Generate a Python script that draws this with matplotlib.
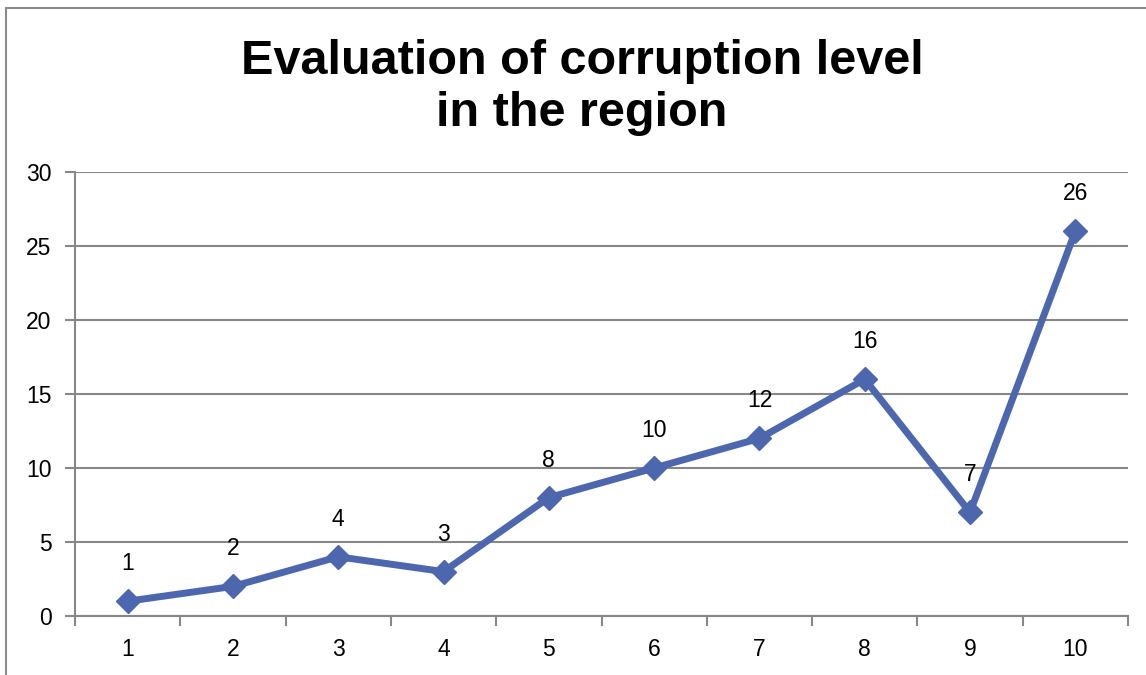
import matplotlib.pyplot as plt
from matplotlib.patches import Rectangle

plt.rcParams['font.family'] = ['Liberation Sans', 'DejaVu Sans']

categories = [1, 2, 3, 4, 5, 6, 7, 8, 9, 10]
values = [1, 2, 4, 3, 8, 10, 12, 16, 7, 26]
y_ticks = [0, 5, 10, 15, 20, 25, 30]

line_color = '#4D67AE'
grid_color = '#878787'

fig = plt.figure(figsize=(11.46, 6.75), dpi=100)
ax = fig.add_axes([75 / 1146, 1 - 616 / 675, (1128 - 75) / 1146, (616 - 172) / 675])

# outer chart frame (runs off the right/bottom edge)
fig.patches.append(Rectangle((6 / 1146, -0.1), 1.2, 1 - 8 / 675 + 0.1,
                             transform=fig.transFigure, fill=False,
                             edgecolor='#8c8c8c', linewidth=1.5))

ax.plot(categories, values, color=line_color, linewidth=5, marker='D',
        markersize=12, markerfacecolor=line_color, markeredgecolor=line_color,
        zorder=3, clip_on=False)

for x, v in zip(categories, values):
    ax.annotate(str(v), (x, v), xytext=(0, 27), textcoords='offset points',
                ha='center', va='center', fontsize=16.5, color='black')

ax.set_xlim(0.5, 10.5)
ax.set_ylim(0, 30)
ax.set_yticks(y_ticks)
ax.set_xticks(categories)
ax.set_xticks([c + 0.5 for c in categories[:-1]] + [0.5, 10.5], minor=True)

ax.yaxis.grid(True, color=grid_color, linewidth=1.5)
ax.set_axisbelow(True)

for side in ['top', 'right']:
    ax.spines[side].set_visible(False)
for side in ['left', 'bottom']:
    ax.spines[side].set_color(grid_color)
    ax.spines[side].set_linewidth(1.5)

ax.tick_params(axis='y', direction='out', length=7, width=1.5, color=grid_color,
               labelsize=16.5, pad=10)
ax.tick_params(axis='x', which='major', length=0, labelsize=16.5, pad=16)
ax.tick_params(axis='x', which='minor', direction='out', length=7, width=1.5,
               color=grid_color)

fig.text(582 / 1146, 1 - 87 / 675, 'Evaluation of corruption level\nin the region',
         ha='center', va='center', fontsize=35, fontweight='bold',
         linespacing=1.2)

fig.savefig('out.png', dpi=100)
